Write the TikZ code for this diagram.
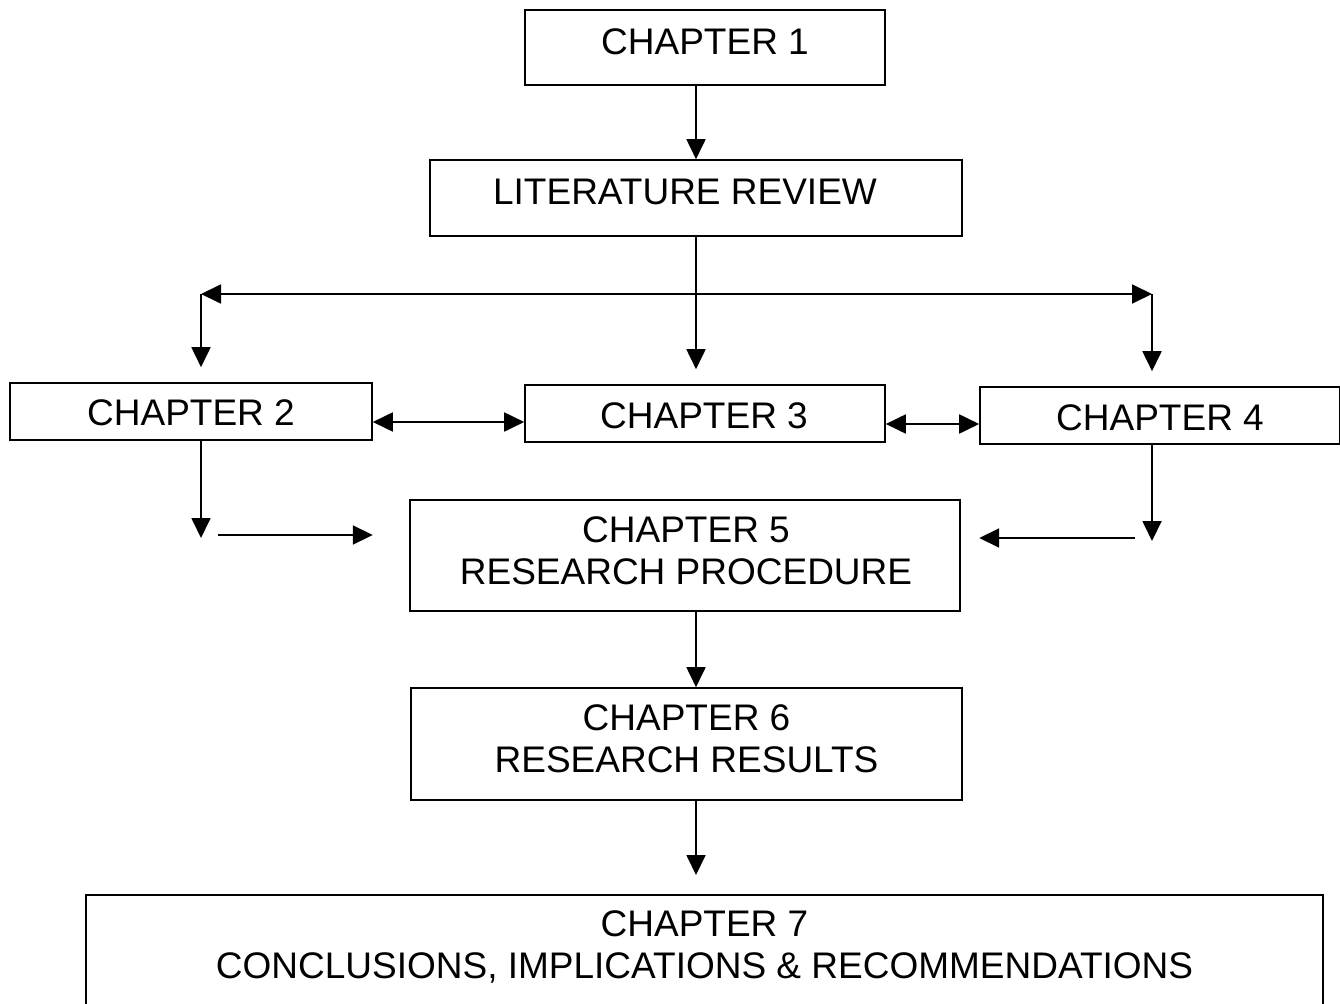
\documentclass[tikz,border=0pt]{standalone}
\usepackage{fontspec}
\setmainfont{Liberation Sans}
\usetikzlibrary{arrows.meta}
\begin{document}
\begin{tikzpicture}[x=1pt,y=-1pt,
  box/.style={draw, line width=1.6pt, inner sep=0pt},
  txt/.style={inner sep=0pt, align=center, font=\fontsize{37}{42}\selectfont},
  arr/.style={line width=1.8pt, -{Triangle[length=20pt,width=19pt]}},
  dbl/.style={line width=1.8pt, {Triangle[length=20pt,width=19pt]}-{Triangle[length=20pt,width=19pt]}}]
\useasboundingbox (0,0) rectangle (1340,1003);
% boxes
\node[box, minimum width=360pt, minimum height=75pt] (ch1) at (705,47.5) {};
\node[box, minimum width=532pt, minimum height=76pt] (lit) at (696,198) {};
\node[box, minimum width=362pt, minimum height=57pt] (ch2) at (191,411.5) {};
\node[box, minimum width=360pt, minimum height=57pt] (ch3) at (705,413.5) {};
\node[box, minimum width=360pt, minimum height=57pt] (ch4) at (1160,415.5) {};
\node[box, minimum width=550pt, minimum height=111pt] (ch5) at (685,555.5) {};
\node[box, minimum width=551pt, minimum height=112pt] (ch6) at (686.5,744) {};
\coordinate (ch7nw) at (86,895);
\coordinate (ch7ne) at (1323,895);
\draw[line width=1.6pt] (ch7nw) ++(0,130) -- (ch7nw) -- (ch7ne) -- ++(0,130);
% texts
\node[txt] (t1) at (705,42) {CHAPTER 1};
\node[txt] (tlit) at (685,192) {LITERATURE REVIEW};
\node[txt] (t2) at (191,413) {CHAPTER 2};
\node[txt] (t3) at (704,416) {CHAPTER 3};
\node[txt] (t4) at (1160,418) {CHAPTER 4};
\node[txt] (t5) at (686,551) {CHAPTER 5\\RESEARCH PROCEDURE};
\node[txt] (t6) at (686.5,739) {CHAPTER 6\\RESEARCH RESULTS};
\node[txt] (t7) at (704.5,946.5) {CHAPTER 7\\CONCLUSIONS, IMPLICATIONS \& RECOMMENDATIONS};
% top
\draw[arr] (ch1.south -| lit.north) -- (lit.north);
\draw[arr, shorten >=15pt] (lit.south) -- (lit.south |- ch3.north);
% branch line
\coordinate (L) at (201,294);
\coordinate (R) at (1152,294);
\draw[dbl] (L) -- (R);
\draw[arr, shorten >=15pt] (L) -- (L |- ch2.north);
\draw[arr, shorten >=15pt] (R) -- (R |- ch4.north);
% sideways
\coordinate (h1) at (0,422);
\coordinate (h2) at (0,424);
\draw[dbl] (ch2.east |- h1) -- (ch3.west |- h1);
\draw[dbl] (ch3.east |- h2) -- (ch4.west |- h2);
% lower
\coordinate (L2) at (201,538);
\coordinate (R2) at (1152,541);
\draw[arr] (ch2.south -| L2) -- (L2);
\draw[arr] (ch4.south -| R2) -- (R2);
\coordinate (a1) at (218,535);
\coordinate (a2) at (1135,538);
\draw[arr] (a1) -- (a1 -| ch2.east);
\draw[arr] (a2) -- (a2 -| ch4.west);
% bottom
\draw[arr] (ch5.south -| lit.south) -- (ch6.north -| lit.south);
\draw[arr, shorten >=20pt] (ch6.south -| lit.south) -- (ch7nw -| lit.south);
\end{tikzpicture}
\end{document}
